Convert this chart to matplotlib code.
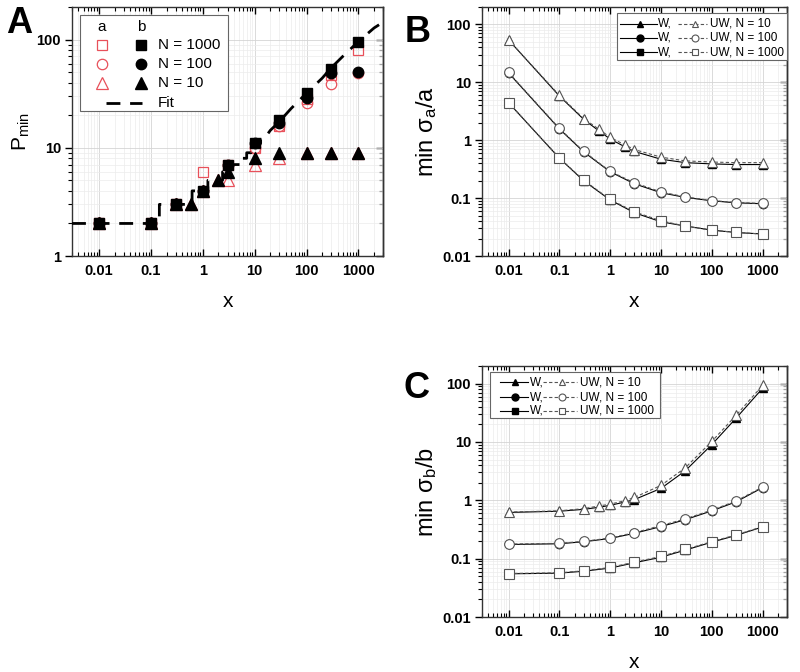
import matplotlib
matplotlib.use('Agg')
import matplotlib.pyplot as plt
import numpy as np
from matplotlib.ticker import FixedLocator, LogLocator, NullFormatter
from matplotlib.patches import Rectangle

plt.rcParams['font.family'] = ['Liberation Sans', 'DejaVu Sans']
plt.rcParams['mathtext.fontset'] = 'custom'
plt.rcParams['mathtext.rm'] = 'Liberation Sans'
plt.rcParams['mathtext.it'] = 'Liberation Sans:italic'

##---- data
# panel A: P_min
xA = [0.01, 0.1, 0.3, 1, 3, 10, 30, 100, 300, 1000]
xA10 = [0.01, 0.1, 0.3, 0.6, 1, 2, 3, 10, 30, 100, 300, 1000]
pa_1000 = [2, 2, 3, 6, 7, 10, 16, 28, 47, 80]
pa_100 = [2, 2, 3, 4, 7, 10, 16, 26, 39, 49]
pa_10 = [2, 2, 3, 3, 4, 5, 5, 7, 8, 9, 9, 9]
pb_1000 = [2, 2, 3, 4, 7, 11, 18, 32, 53, 95]
pb_100 = [2, 2, 3, 4, 7, 11, 17, 29, 49, 50]
pb_10 = [2, 2, 3, 3, 4, 5, 6, 8, 9, 9, 9, 9]
fit_x = [0.003, 0.145, 0.145, 0.62, 0.62, 1.25, 1.25, 2.4, 2.4, 3.0, 3.0, 5.5, 5.5, 7.0, 7.0,
         8.5, 8.5, 10.5, 10.5, 13, 13, 15, 20, 30, 50, 100, 200, 300, 500, 1000, 2000, 3000]
fit_y = [2, 2, 3, 3, 4, 4, 5, 5, 6, 6, 7, 7, 8, 8, 9,
         9, 10, 10, 11, 11, 12, 12, 14.5, 17.5, 23, 32, 44, 55, 70, 96, 128, 145]

# panels B, C: x values
xB10 = [0.01, 0.1, 0.3, 0.6, 1, 2, 3, 10, 30, 100, 300, 1000]
xB = [0.01, 0.1, 0.3, 1, 3, 10, 30, 100, 300, 1000]

# panel B: min sigma_a / a
sa_w_10 = [54, 5.8, 2.3, 1.45, 1.05, 0.76, 0.64, 0.47, 0.41, 0.39, 0.38, 0.38]
sa_uw_10 = [54, 5.97, 2.37, 1.55, 1.12, 0.82, 0.69, 0.51, 0.44, 0.42, 0.41, 0.41]
sa_w_100 = [14.5, 1.57, 0.63, 0.285, 0.177, 0.124, 0.103, 0.09, 0.083, 0.08]
sa_uw_100 = [14.8, 1.6, 0.645, 0.29, 0.184, 0.128, 0.105, 0.091, 0.084, 0.081]
sa_w_1000 = [4.45, 0.49, 0.2, 0.093, 0.056, 0.039, 0.033, 0.028, 0.0255, 0.024]
sa_uw_1000 = [4.47, 0.495, 0.204, 0.095, 0.058, 0.0406, 0.0329, 0.028, 0.0256, 0.024]

# panel C: min sigma_b / b
sb_w_10 = [0.62, 0.65, 0.7, 0.76, 0.82, 0.94, 1.03, 1.6, 3.2, 9.0, 25.5, 83]
sb_uw_10 = [0.63, 0.66, 0.72, 0.8, 0.86, 0.99, 1.12, 1.8, 3.6, 10.2, 28.5, 93]
sb_w_100 = [0.175, 0.18, 0.195, 0.222, 0.272, 0.355, 0.465, 0.66, 0.94, 1.65]
sb_uw_100 = [0.178, 0.183, 0.198, 0.226, 0.279, 0.369, 0.48, 0.68, 0.97, 1.69]
sb_w_1000 = [0.055, 0.0565, 0.061, 0.069, 0.085, 0.106, 0.14, 0.192, 0.25, 0.35]
sb_uw_1000 = [0.0557, 0.0572, 0.062, 0.0707, 0.0873, 0.109, 0.144, 0.196, 0.255, 0.354]

x_ticks = [0.01, 0.1, 1, 10, 100, 1000]
x_ticklabels = ['0.01', '0.1', '1', '10', '100', '1000']

red = '#e8505a'
gray = '#555555'


def style_axes(ax, yticks, yticklabels, ylim):
    ax.set_xscale('log')
    ax.set_yscale('log')
    ax.set_xlim(0.003, 3000)
    ax.set_ylim(*ylim)
    ax.xaxis.set_major_locator(FixedLocator(x_ticks))
    ax.set_xticklabels(x_ticklabels, fontsize=10.5, fontweight='bold')
    ax.yaxis.set_major_locator(FixedLocator(yticks))
    ax.set_yticklabels(yticklabels, fontsize=10.5, fontweight='bold')
    for axis in (ax.xaxis, ax.yaxis):
        axis.set_minor_locator(LogLocator(base=10, subs=np.arange(2, 10), numticks=100))
        axis.set_minor_formatter(NullFormatter())
    ax.grid(True, which='major', color='#d4d4d4', linewidth=0.6)
    ax.grid(True, which='minor', color='#ececec', linewidth=0.5)
    ax.set_axisbelow(True)
    ax.tick_params(axis='x', which='both', direction='in', top=True, bottom=True)
    ax.tick_params(axis='x', which='major', length=5, width=1, pad=6)
    ax.tick_params(axis='x', which='minor', length=3, width=0.8)
    ax.tick_params(axis='y', which='both', direction='out', left=True, right=False)
    ax.tick_params(axis='y', which='major', length=5, width=1, pad=3)
    ax.tick_params(axis='y', which='minor', length=3, width=0.8)
    sec = ax.secondary_yaxis('right')
    sec.tick_params(axis='y', which='both', direction='in', labelright=False)
    sec.tick_params(axis='y', which='major', length=5, width=1)
    sec.tick_params(axis='y', which='minor', length=3, width=0.8)
    sec.yaxis.set_major_locator(FixedLocator(yticks))
    sec.yaxis.set_minor_locator(LogLocator(base=10, subs=np.arange(2, 10), numticks=100))
    sec.yaxis.set_minor_formatter(NullFormatter())
    sec.set_yticklabels([])
    for sp in ax.spines.values():
        sp.set_linewidth(1.0)
        sp.set_color('#333333')
    sec.spines['right'].set_linewidth(1.0)
    ax.set_xlabel('x', fontsize=15, labelpad=10)


def wuw_legend(ax, box, rows, solid, mark_s, text_w, dashed, mark_d, text_uw, markers, labels):
    ax.add_patch(Rectangle((box[0], box[1]), box[2], box[3], transform=ax.transAxes,
                           facecolor='white', edgecolor='#666666', linewidth=0.8,
                           zorder=5, clip_on=False))
    for y, m, lab in zip(rows, markers, labels):
        ax.plot(solid, [y, y], '-', color='black', lw=0.8, transform=ax.transAxes, zorder=6, clip_on=False)
        ax.plot([mark_s], [y], m, color='black', ms=5, transform=ax.transAxes, zorder=7, clip_on=False)
        ax.text(text_w, y, 'W,', transform=ax.transAxes, fontsize=8.5, va='center', ha='left', zorder=7)
        ax.plot(dashed, [y, y], '--', color=gray, lw=0.8, dashes=(3, 2), transform=ax.transAxes,
                zorder=6, clip_on=False)
        ax.plot([mark_d], [y], m, color=gray, mfc='white', ms=5, mew=0.8, transform=ax.transAxes,
                zorder=7, clip_on=False)
        ax.text(text_uw, y, 'UW, ' + lab, transform=ax.transAxes, fontsize=8.5, va='center',
                ha='left', zorder=7)


fig = plt.figure(figsize=(8, 6.72), dpi=100)

##---- A. P_min
axA = fig.add_axes([0.09, 0.619, 0.389, 0.3706])
axA.plot(xA, pa_1000, 's', mfc='none', mec=red, ms=7, mew=0.9, zorder=3)
axA.plot(xA, pa_100, 'o', mfc='none', mec=red, ms=7.5, mew=0.9, zorder=3)
axA.plot(xA10, pa_10, '^', mfc='none', mec=red, ms=8, mew=0.9, zorder=3)
axA.plot(xA, pb_1000, 's', color='black', ms=7, zorder=4)
axA.plot(xA, pb_100, 'o', color='black', ms=7.5, zorder=4)
axA.plot(xA10, pb_10, '^', color='black', ms=8, zorder=4)
axA.plot(fit_x, fit_y, color='black', lw=2, dashes=(5, 3.5), zorder=5)
style_axes(axA, [1, 10, 100], ['1', '10', '100'], (1, 200))
axA.set_ylabel('P$_\\mathrm{min}$', fontsize=15, labelpad=3)

# legend of A
axA.add_patch(Rectangle((0.026, 0.582), 0.474, 0.386, transform=axA.transAxes,
                        facecolor='white', edgecolor='#666666', linewidth=0.8, zorder=6))
axA.text(0.096, 0.92, 'a', transform=axA.transAxes, fontsize=11, ha='center', va='center', zorder=7)
axA.text(0.222, 0.92, 'b', transform=axA.transAxes, fontsize=11, ha='center', va='center', zorder=7)
leg_rows = [0.847, 0.771, 0.695]
leg_markers = ['s', 'o', '^']
leg_sizes = [7, 7.5, 8]
leg_labels = ['N = 1000', 'N = 100', 'N = 10']
for y, m, s, lab in zip(leg_rows, leg_markers, leg_sizes, leg_labels):
    axA.plot([0.096], [y], m, mfc='none', mec=red, ms=s, mew=0.9, transform=axA.transAxes, zorder=7)
    axA.plot([0.222], [y], m, color='black', ms=s, transform=axA.transAxes, zorder=7)
    axA.text(0.277, y, lab, transform=axA.transAxes, fontsize=11, va='center', ha='left', zorder=7)
axA.plot([0.109, 0.225], [0.614, 0.614], color='black', lw=2, dashes=(5, 3.5),
         transform=axA.transAxes, zorder=7)
axA.text(0.277, 0.614, 'Fit', transform=axA.transAxes, fontsize=11, va='center', ha='left', zorder=7)

##---- B. min sigma_a / a
axB = fig.add_axes([0.6025, 0.619, 0.381, 0.3706])
for xs, w, uw, m in [(xB10, sa_w_10, sa_uw_10, '^'), (xB, sa_w_100, sa_uw_100, 'o'),
                     (xB, sa_w_1000, sa_uw_1000, 's')]:
    axB.plot(xs, w, '-' + m, color='black', lw=0.8, ms=6, zorder=3)
    axB.plot(xs, uw, '--' + m, color=gray, lw=0.8, dashes=(3, 2), mfc='white', mec=gray,
             ms=7, mew=0.8, zorder=4)
style_axes(axB, [0.01, 0.1, 1, 10, 100], ['0.01', '0.1', '1', '10', '100'], (0.01, 200))
axB.set_ylabel('min σ$_\\mathrm{a}$/a', fontsize=17, labelpad=2)
wuw_legend(axB, (0.443, 0.787, 0.557, 0.189), [0.932, 0.876, 0.819],
           [0.452, 0.574], 0.518, 0.577, [0.643, 0.738], 0.698, 0.748,
           ['^', 'o', 's'], ['N = 10', 'N = 100', 'N = 1000'])

##---- C. min sigma_b / b
axC = fig.add_axes([0.6025, 0.0818, 0.381, 0.3735])
for xs, w, uw, m in [(xB10, sb_w_10, sb_uw_10, '^'), (xB, sb_w_100, sb_uw_100, 'o'),
                     (xB, sb_w_1000, sb_uw_1000, 's')]:
    axC.plot(xs, w, '-' + m, color='black', lw=0.8, ms=6, zorder=3)
    axC.plot(xs, uw, '--' + m, color=gray, lw=0.8, dashes=(3, 2), mfc='white', mec=gray,
             ms=7, mew=0.8, zorder=4)
style_axes(axC, [0.01, 0.1, 1, 10, 100], ['0.01', '0.1', '1', '10', '100'], (0.01, 200))
axC.set_ylabel('min σ$_\\mathrm{b}$/b', fontsize=17, labelpad=2)
wuw_legend(axC, (0.026, 0.793, 0.558, 0.183), [0.936, 0.876, 0.821],
           [0.059, 0.151], 0.108, 0.157, [0.2, 0.311], 0.262, 0.321,
           ['^', 'o', 's'], ['N = 10', 'N = 100', 'N = 1000'])

# panel letters
fig.text(0.0075, 0.951, 'A', fontsize=26, fontweight='bold', va='baseline', ha='left')
fig.text(0.506, 0.9375, 'B', fontsize=26, fontweight='bold', va='baseline', ha='left')
fig.text(0.504, 0.4077, 'C', fontsize=26, fontweight='bold', va='baseline', ha='left')

plt.savefig('out.png', dpi=100)
